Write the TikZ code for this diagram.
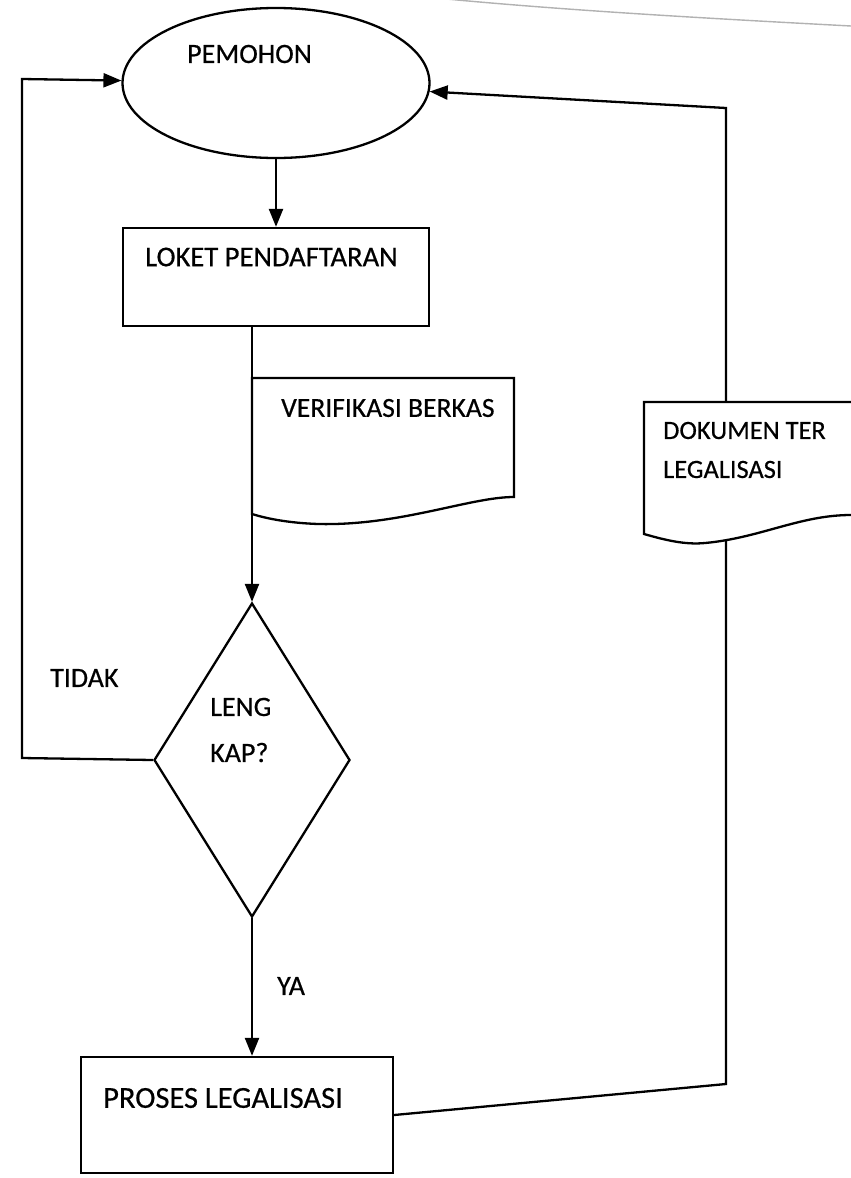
\documentclass[tikz,border=0pt]{standalone}
\usepackage{fontspec}
\setmainfont{Carlito}[FakeBold=0.5]
\usetikzlibrary{shapes.geometric,arrows.meta}
\begin{document}
\begin{tikzpicture}[x=1pt,y=-1pt,
  every node/.style={font=\fontsize{28}{32}\selectfont, text=black},
  shp/.style={draw, line width=2.3pt, inner sep=0pt},
  lbl/.style={anchor=west, inner sep=0pt, align=left},
  flow/.style={line width=2.3pt, -{Triangle[length=18pt,width=14pt]}},
  link/.style={line width=2.3pt}]
\useasboundingbox (0,0) rectangle (851,1178);
\fill[white] (0,0) rectangle (851,1178);
\begin{scope}
\clip (0,0) rectangle (851,1178);
% paper edge
\draw[gray!60, line width=1.4pt] (436,-2) .. controls (560,10) and (700,18) .. (851,26);
% shapes
\node[shp, ellipse, minimum width=307pt, minimum height=150pt] (pemohon) at (276,83) {};
\node[shp, rectangle, minimum width=306pt, minimum height=98pt] (loket) at (276,277) {};
\node[shp, diamond, minimum width=196pt, minimum height=314pt] (dia) at (252,760) {};
\node[shp, rectangle, minimum width=312pt, minimum height=116pt] (proses) at (237,1115) {};
% connectors
\coordinate (lb) at (22,758);
\coordinate (lt) at (22,79);
\coordinate (rb) at (726,1084);
\coordinate (rt) at (726,108);
\draw[flow] (pemohon.south) -- (loket.north);
\draw[flow] (loket.south -| dia.north) -- (dia.north);
\draw[flow] (dia.south) -- (dia.south |- proses.north);
\draw[flow] (dia.west) -- (lb) -- (lt) -- (pemohon);
\draw[flow] (proses.east) -- (rb) -- (rt) -- (pemohon);
% documents
\filldraw[fill=white, link] (252,378) -- (514,378) -- (514,497)
  .. controls (470,497) and (400,526) .. (318,524)
  .. controls (290,523) and (268,519) .. (252,514) -- cycle;
\filldraw[fill=white, link] (880,402) -- (644,402) -- (644,534)
  .. controls (665,540) and (685,545) .. (705,543)
  .. controls (760,538) and (800,515) .. (851,515) -- (880,515);
% texts
\node[lbl] (tpemohon) at (187,54) {PEMOHON};
\node[lbl, font=\fontsize{28.6}{32}\selectfont] (tloket) at (145,257) {LOKET PENDAFTARAN};
\node[lbl, font=\fontsize{27.6}{32}\selectfont] (tverif) at (281,408) {VERIFIKASI BERKAS};
\node[lbl, font=\fontsize{26.4}{39}\selectfont] (tdok) at (663,450) {DOKUMEN TER\\LEGALISASI};
\node[lbl, font=\fontsize{28}{46}\selectfont] (tleng) at (210,730) {LENG\\KAP?};
\node[lbl] (ttidak) at (50,678) {TIDAK};
\node[lbl] (tya) at (277,986) {YA};
\node[lbl, font=\fontsize{30.5}{34}\selectfont] (tproses) at (103,1098) {PROSES LEGALISASI};
\end{scope}
\end{tikzpicture}
\end{document}
